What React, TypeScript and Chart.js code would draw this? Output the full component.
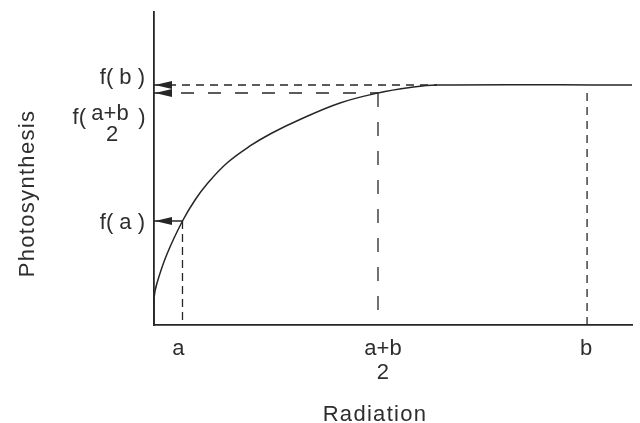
import { useEffect, useRef } from "react";
import { Chart, registerables } from "chart.js";

Chart.register(...registerables);

// Radiation (x) and photosynthesis (y) in relative units 0..100
const CURVE_X = [0, 0, 0.63, 2.72, 5.96, 8.58, 11.09, 15.27, 20.08, 24.69, 30.54, 38.91, 46.86, 53.56, 59.21, 100];
const CURVE_Y = [0, 8.63, 13.42, 22.68, 33.23, 39.94, 45.05, 51.76, 57.19, 61.34, 65.65, 70.93, 74.12, 75.88, 76.68, 76.68];

const X_A = 5.96;
const X_MID = 46.86;
const X_B = 90.6;
const F_A = 33.23;
const F_MID = 74.12;
const F_B = 76.68;
const PLATEAU_START = 59.21;

const X_TICK_LABELS = [["a"], ["a+b", "2"], ["b"]];
const Y_LABEL_B = "f( b )";
const Y_LABEL_A = "f( a )";
const Y_LABEL_MID = ["f(", "a+b", "2", ")"];
const X_TITLE = "Radiation";
const Y_TITLE = "Photosynthesis";

const INK = "#262626";
const TEXT = "#2e2e2e";
const FONT = '22px "Liberation Sans", Arial, Helvetica, sans-serif';

export default function App() {
  const ref = useRef<HTMLCanvasElement>(null);

  useEffect(() => {
    const seg = (x1: number, y1: number, x2: number, y2: number, dash: number[], width = 1.3) => ({
      data: [
        { x: x1, y: y1 },
        { x: x2, y: y2 },
      ],
      showLine: true,
      borderColor: INK,
      borderWidth: width,
      borderDash: dash,
      pointRadius: 0,
      fill: false,
    });

    const labelsPlugin = {
      id: "labels",
      afterDatasetsDraw(chart: any) {
        const ctx = chart.ctx as CanvasRenderingContext2D;
        const xs = chart.scales.x;
        const ys = chart.scales.y;
        const { left, top, bottom } = chart.chartArea;
        ctx.save();

        // arrowheads at the y axis
        ctx.fillStyle = INK;
        [F_A, F_MID, F_B].forEach((v) => {
          const py = ys.getPixelForValue(v);
          ctx.beginPath();
          ctx.moveTo(left + 1, py);
          ctx.lineTo(left + 18, py - 4);
          ctx.lineTo(left + 18, py + 4);
          ctx.closePath();
          ctx.fill();
        });

        ctx.fillStyle = TEXT;
        ctx.font = FONT;
        (ctx as any).letterSpacing = "0px";
        ctx.textBaseline = "middle";

        // x tick labels
        const xVals = [X_A, X_MID, X_B];
        const xOff = [-4, 5, -1];
        ctx.textAlign = "center";
        X_TICK_LABELS.forEach((lines, i) => {
          const px = xs.getPixelForValue(xVals[i]) + xOff[i];
          lines.forEach((t, j) => ctx.fillText(t, px, bottom + 24 + j * 24));
        });

        // y labels
        ctx.textAlign = "right";
        ctx.fillText(Y_LABEL_B, left - 9, ys.getPixelForValue(F_B) - 7);
        ctx.fillText(Y_LABEL_A, left - 9, ys.getPixelForValue(F_A) + 1.5);
        const pm = ys.getPixelForValue(F_MID);
        ctx.fillText(Y_LABEL_MID[0], left - 68, pm + 25);
        ctx.textAlign = "center";
        ctx.fillText(Y_LABEL_MID[1], left - 44, pm + 21);
        ctx.fillText(Y_LABEL_MID[2], left - 42, pm + 42);
        ctx.fillText(Y_LABEL_MID[3], left - 12, pm + 25);

        // axis titles
        (ctx as any).letterSpacing = "1.3px";
        ctx.textAlign = "center";
        ctx.fillText(X_TITLE, xs.getPixelForValue(X_MID) - 3, bottom + 90);
        ctx.translate(left - 126, (top + bottom) / 2 + 25);
        ctx.rotate(-Math.PI / 2);
        ctx.fillText(Y_TITLE, 0, 0);
        ctx.restore();
      },
    };

    const chart = new Chart(ref.current!, {
      type: "scatter",
      data: {
        datasets: [
          {
            data: CURVE_X.map((x, i) => ({ x, y: CURVE_Y[i] })),
            showLine: true,
            borderColor: INK,
            borderWidth: 1.5,
            pointRadius: 0,
            tension: 0.4,
            fill: false,
          } as any,
          seg(0, F_A, X_A, F_A, [], 1.5),
          seg(X_A, F_A, X_A, 0, [8, 5]),
          seg(0, F_MID, X_MID, F_MID, [13, 14]),
          seg(X_MID, F_MID, X_MID, 0, [14, 15]),
          seg(0, F_B, PLATEAU_START, F_B, [8, 6]),
          seg(X_B, F_MID, X_B, 0, [8, 6]),
        ],
      },
      options: {
        animation: false,
        responsive: true,
        maintainAspectRatio: false,
        layout: { padding: { top: 12, right: 8, left: 0, bottom: 0 } },
        plugins: {
          legend: { display: false },
          tooltip: { enabled: false },
          title: { display: false },
        },
        scales: {
          x: {
            type: "linear",
            min: 0,
            max: 100,
            grid: { display: false, drawTicks: false },
            ticks: { display: false },
            border: { display: true, color: INK, width: 1.8 },
            afterFit: (s: any) => {
              s.height = 98;
            },
          },
          y: {
            type: "linear",
            min: 0,
            max: 100,
            grid: { display: false, drawTicks: false },
            ticks: { display: false },
            border: { display: true, color: INK, width: 1.8 },
            afterFit: (s: any) => {
              s.width = 154;
            },
          },
        },
      } as any,
      plugins: [labelsPlugin],
    });
    return () => chart.destroy();
  }, []);

  return (
    <div style={{ position: "fixed", left: 0, top: 0, width: 640, height: 423, background: "#fff" }}>
      <canvas ref={ref} />
    </div>
  );
}
